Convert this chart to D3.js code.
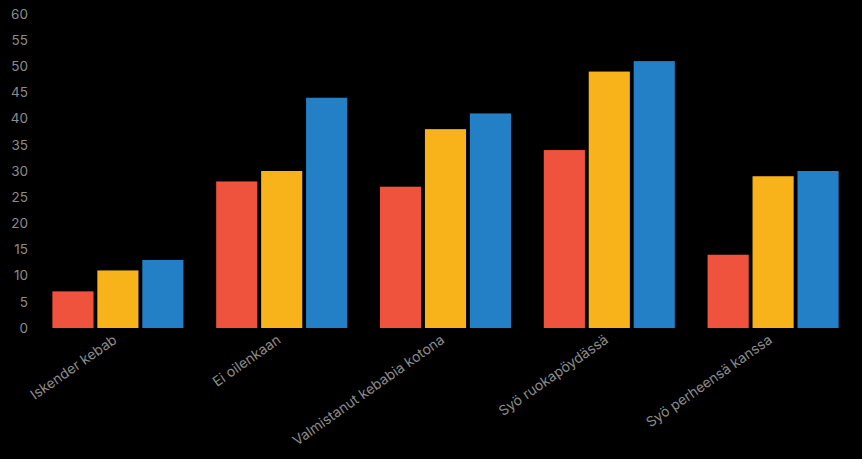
<!DOCTYPE html>
<html><head><meta charset="utf-8">
<script src="https://cdn.jsdelivr.net/npm/d3@7"></script>
<style>
html,body{margin:0;padding:0;background:#000;}
svg{display:block;}
text{font-family:Inter,"Open Sans",sans-serif;}
</style></head><body>
<svg id="chart" width="862" height="459"></svg>
<script>
const categories = ["Iskender kebab","Ei oilenkaan","Valmistanut kebabia kotona","Syö ruokapöydässä","Syö perheensä kanssa"];
const seriesNames = ["s1","s2","s3"];
const seriesA = [7, 28, 27, 34, 14];
const seriesB = [11, 30, 38, 49, 29];
const seriesC = [13, 44, 41, 51, 30];
const colors = ["#f0533d","#f8b31a","#2380c6"];
const yTicks = [0,5,10,15,20,25,30,35,40,45,50,55,60];

const svg = d3.select("#chart");
const x0 = d3.scaleBand().domain(categories).range([36,855]).paddingInner(0.2).paddingOuter(0.1);
const x1 = d3.scaleBand().domain(seriesNames).range([0,x0.bandwidth()]).paddingInner(0.085);
const y = d3.scaleLinear().domain([0,60]).range([328,14]);

const data = categories.map((c,i)=>({cat:c, vals:[seriesA[i],seriesB[i],seriesC[i]]}));

const yAxis = svg.append("g").attr("transform","translate(36,0)")
  .call(d3.axisLeft(y).tickValues(yTicks).tickSize(0).tickPadding(8));
yAxis.select(".domain").remove();
yAxis.selectAll("text").attr("fill","#8c8c8c").style("font-size","13.5px");

const g = svg.append("g");
g.selectAll("g.grp").data(data).join("g").attr("class","grp")
  .attr("transform",d=>`translate(${x0(d.cat)},0)`)
  .selectAll("rect").data(d=>d.vals.map((v,j)=>({v,j})))
  .join("rect")
  .attr("x",d=>x1(seriesNames[d.j]))
  .attr("width",x1.bandwidth())
  .attr("y",d=>y(d.v))
  .attr("height",d=>y(0)-y(d.v))
  .attr("fill",d=>colors[d.j]);

const xAxis = svg.append("g").attr("transform","translate(0,328)")
  .call(d3.axisBottom(x0).tickSize(0).tickPadding(0));
xAxis.select(".domain").remove();
xAxis.selectAll("text")
  .attr("fill","#8c8c8c").style("font-size","14px")
  .attr("text-anchor","end")
  .attr("dy","0")
  .attr("transform","translate(0,14) rotate(-35)");
</script>
</body></html>
